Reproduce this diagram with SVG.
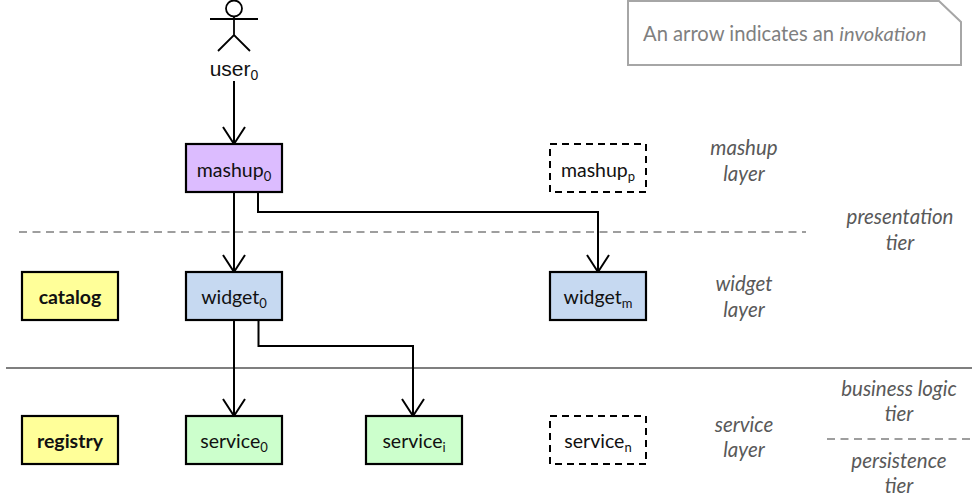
<svg xmlns="http://www.w3.org/2000/svg" width="972" height="499" viewBox="0 0 972 499">
<defs>
<marker id="arrow" markerUnits="userSpaceOnUse" markerWidth="24" markerHeight="26" refX="20" refY="12" orient="auto" viewBox="0 0 24 24">
<path d="M3 1 L20 12 L3 23" fill="none" stroke="#000" stroke-width="2"/>
</marker>
</defs>
<style>
text{font-family:Lato,"Liberation Sans",sans-serif;fill:#111;font-size:19.5px}
.c{text-anchor:middle}
.b{font-weight:700}
.box{stroke:#000;stroke-width:2.2}
.dash{fill:#fff;stroke:#000;stroke-width:2;stroke-dasharray:7 5}
.conn{fill:none;stroke:#000;stroke-width:2;marker-end:url(#arrow)}
.tier{font-style:italic;fill:#595959;text-anchor:middle;font-size:20.500px}
.sub{font-size:13px}
.hl{stroke:#7f7f7f;fill:none}
</style>
<g id="separators">
<line class="hl" x1="19" y1="232" x2="806" y2="232" stroke-width="1.6" stroke-dasharray="8 5.5"/>
<line class="hl" x1="6" y1="368" x2="972" y2="368" stroke-width="2"/>
<line class="hl" x1="827" y1="439" x2="972" y2="439" stroke-width="1.6" stroke-dasharray="8 5.5"/>
</g>
<g id="connectors">
<path class="conn" d="M234 81V144"/>
<path class="conn" d="M234 192V272"/>
<path class="conn" d="M258 192V212H598V272"/>
<path class="conn" d="M234 320V416"/>
<path class="conn" d="M258.500 320V346H413V416"/>
</g>
<g id="user0">
<g fill="none" stroke="#000" stroke-width="1.800">
<circle cx="234" cy="8.500" r="8"/>
<path d="M210 19H258M234 17V35M218 51L234 35L250 51"/>
</g>
<text x="234" y="76" class="c" style="font-family:'Liberation Sans',sans-serif;font-size:21px">user<tspan style="font-size:14px" dy="4">0</tspan></text>
</g>
<g id="mashup0"><rect class="box" x="186" y="144" width="96" height="48" fill="#dcbcff"/><text x="234" y="177" class="c">mashup<tspan class="sub" dy="4">0</tspan></text></g>
<g id="mashupp"><rect class="dash" x="550" y="144" width="96" height="48"/><text x="598" y="177" class="c">mashup<tspan class="sub" dy="4">p</tspan></text></g>
<g id="catalog"><rect class="box" x="22" y="272" width="96" height="48" fill="#ffff99"/><text x="70" y="304" class="c b">catalog</text></g>
<g id="widget0"><rect class="box" x="186" y="272" width="96" height="48" fill="#c6d9f1"/><text x="234" y="304" class="c">widget<tspan class="sub" dy="4">0</tspan></text></g>
<g id="widgetm"><rect class="box" x="550" y="272" width="96" height="48" fill="#c6d9f1"/><text x="598" y="304" class="c">widget<tspan class="sub" dy="4">m</tspan></text></g>
<g id="registry"><rect class="box" x="22" y="416" width="96" height="48" fill="#ffff99"/><text x="70" y="448" class="c b">registry</text></g>
<g id="service0"><rect class="box" x="186" y="416" width="96" height="48" fill="#ccffcc"/><text x="234" y="448" class="c">service<tspan class="sub" dy="4">0</tspan></text></g>
<g id="servicei"><rect class="box" x="366" y="416" width="96" height="48" fill="#ccffcc"/><text x="414" y="448" class="c">service<tspan class="sub" dy="4">i</tspan></text></g>
<g id="servicen"><rect class="dash" x="550" y="416" width="96" height="48"/><text x="598" y="448" class="c">service<tspan class="sub" dy="4">n</tspan></text></g>
<g id="note">
<path d="M628 1H939L961 22V65H628Z" fill="#fff" stroke="#a6a6a6" stroke-width="2"/>
<text x="643" y="41" style="fill:#7f7f7f;font-size:20.200px">An arrow indicates an <tspan font-style="italic">invokation</tspan></text>
</g>
<g id="labels">
<text class="tier" x="744" y="155">mashup</text>
<text class="tier" x="744" y="181">layer</text>
<text class="tier" x="900" y="224">presentation</text>
<text class="tier" x="900" y="250">tier</text>
<text class="tier" x="744" y="291">widget</text>
<text class="tier" x="744" y="317">layer</text>
<text class="tier" x="899" y="396">business logic</text>
<text class="tier" x="899" y="421">tier</text>
<text class="tier" x="744" y="432">service</text>
<text class="tier" x="744" y="457">layer</text>
<text class="tier" x="899" y="468">persistence</text>
<text class="tier" x="899" y="493">tier</text>
</g>
</svg>
